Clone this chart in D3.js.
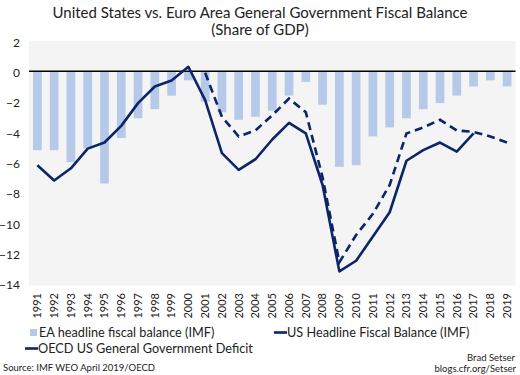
<!DOCTYPE html>
<html>
<head>
<meta charset="utf-8">
<script src="https://cdn.jsdelivr.net/npm/d3@7"></script>
<style>
  body { margin: 0; background: #fff; }
  svg { font-family: Lato, "Open Sans", sans-serif; }
</style>
</head>
<body>
<svg width="520" height="375"></svg>
<script>
var years = d3.range(1991, 2020).map(String);

// EA headline fiscal balance (IMF), bars
var eaBalance = [-5.2, -5.2, -6.0, -5.1, -7.4, -4.4, -3.1, -2.5, -1.6, -0.6,
                 -2.0, -2.7, -3.2, -3.0, -2.6, -1.6, -0.7, -2.2, -6.3, -6.2,
                 -4.3, -3.7, -3.1, -2.5, -2.1, -1.6, -1.0, -0.6, -1.0];

// OECD US general government deficit, solid line (1991-2017)
var oecdYears = d3.range(1991, 2018).map(String);
var oecdDeficit = [-6.2, -7.2, -6.4, -5.1, -4.7, -3.6, -2.1, -1.0, -0.6, 0.3,
                   -1.9, -5.4, -6.5, -5.8, -4.5, -3.4, -4.1, -7.5, -13.2, -12.5,
                   -10.9, -9.3, -5.9, -5.2, -4.7, -5.3, -4.1];

// US headline fiscal balance (IMF), dashed line (2001-2019)
var imfYears = d3.range(2001, 2020).map(String);
var imfBalance = [-0.1, -3.0, -4.3, -3.9, -2.9, -1.8, -2.7, -7.0, -12.6, -10.8,
                  -9.4, -7.5, -4.1, -3.7, -3.2, -3.9, -4.0, -4.3, -4.7];

var yTicks = d3.range(2, -15, -2);

var svg = d3.select("svg"),
    navy = "#0b2566",
    barColor = "#b7c9e8";

var x = d3.scaleBand()
    .domain(years)
    .range([29, 515.5])
    .paddingInner(0.48)
    .paddingOuter(0.24);

var y = d3.scaleLinear()
    .domain([-14, 2])
    .range([283.5, 41]);

// plot background
svg.append("rect")
    .attr("x", 29)
    .attr("y", y(2))
    .attr("width", 515.5 - 29)
    .attr("height", y(-14) - y(2) + 2)
    .attr("fill", "#f4f4f5");

// title
svg.append("text")
    .attr("x", 260).attr("y", 18)
    .attr("text-anchor", "middle")
    .attr("font-size", 15)
    .attr("fill", "#222")
    .text("United States vs. Euro Area General Government Fiscal Balance");
svg.append("text")
    .attr("x", 260).attr("y", 35)
    .attr("text-anchor", "middle")
    .attr("font-size", 15)
    .attr("fill", "#222")
    .text("(Share of GDP)");

// bars
svg.append("g")
  .selectAll("rect")
  .data(eaBalance)
  .enter().append("rect")
    .attr("x", function(d, i) { return x(years[i]); })
    .attr("y", function(d) { return y(Math.max(0, d)); })
    .attr("width", x.bandwidth())
    .attr("height", function(d) { return Math.abs(y(d) - y(0)); })
    .attr("fill", barColor);

// zero line
svg.append("line")
    .attr("x1", 29).attr("x2", 515.5)
    .attr("y1", y(0)).attr("y2", y(0))
    .attr("stroke", "#000")
    .attr("stroke-width", 1.5);

var line = d3.line()
    .x(function(d) { return x(d[0]) + x.bandwidth() / 2; })
    .y(function(d) { return y(d[1]); });

svg.append("path")
    .datum(d3.zip(imfYears, imfBalance))
    .attr("d", line)
    .attr("fill", "none")
    .attr("stroke", navy)
    .attr("stroke-width", 2.6)
    .attr("stroke-dasharray", "8,5");

svg.append("path")
    .datum(d3.zip(oecdYears, oecdDeficit))
    .attr("d", line)
    .attr("fill", "none")
    .attr("stroke", navy)
    .attr("stroke-width", 2.6)
    .attr("stroke-linejoin", "round");

// y axis
var yAxis = svg.append("g")
    .attr("transform", "translate(20,1)")
    .call(d3.axisLeft(y).tickValues(yTicks).tickSize(0).tickPadding(0));
yAxis.select(".domain").remove();
yAxis.selectAll("text")
    .attr("font-size", 12)
    .attr("font-family", "Lato, 'Open Sans', sans-serif")
    .attr("fill", "#222")
    .attr("dy", "0.35em");

// x axis, labels rotated to read upward
var xAxis = svg.append("g")
    .attr("transform", "translate(0,291)")
    .call(d3.axisBottom(x).tickSize(0).tickPadding(0));
xAxis.select(".domain").remove();
xAxis.selectAll("text")
    .attr("font-size", 11)
    .attr("font-family", "Lato, 'Open Sans', sans-serif")
    .attr("fill", "#222")
    .attr("transform", "rotate(-90)")
    .attr("text-anchor", "end")
    .attr("x", -2)
    .attr("y", 0)
    .attr("dy", "0.35em");

// legend
var legend = svg.append("g").attr("font-size", 12.7).attr("fill", "#222");
legend.append("rect")
    .attr("x", 30).attr("y", 329).attr("width", 7).attr("height", 7)
    .attr("fill", barColor);
legend.append("text").attr("x", 39).attr("y", 337)
    .text("EA headline fiscal balance (IMF)");
legend.append("line")
    .attr("x1", 274).attr("x2", 287).attr("y1", 332.5).attr("y2", 332.5)
    .attr("stroke", navy).attr("stroke-width", 2.6);
legend.append("text").attr("x", 287).attr("y", 337)
    .text("US Headline Fiscal Balance (IMF)");
legend.append("line")
    .attr("x1", 25).attr("x2", 38).attr("y1", 348.5).attr("y2", 348.5)
    .attr("stroke", navy).attr("stroke-width", 2.6);
legend.append("text").attr("x", 38).attr("y", 353)
    .text("OECD US General Government Deficit");

// source and credit
svg.append("text")
    .attr("x", 3).attr("y", 371)
    .attr("font-size", 9.5).attr("fill", "#222")
    .text("Source: IMF WEO April 2019/OECD");
svg.append("text")
    .attr("x", 515).attr("y", 360.5)
    .attr("text-anchor", "end")
    .attr("font-size", 9.5).attr("fill", "#222")
    .text("Brad Setser");
svg.append("text")
    .attr("x", 516).attr("y", 371.5)
    .attr("text-anchor", "end")
    .attr("font-size", 9.5).attr("fill", "#222")
    .text("blogs.cfr.org/Setser");
</script>
</body>
</html>
